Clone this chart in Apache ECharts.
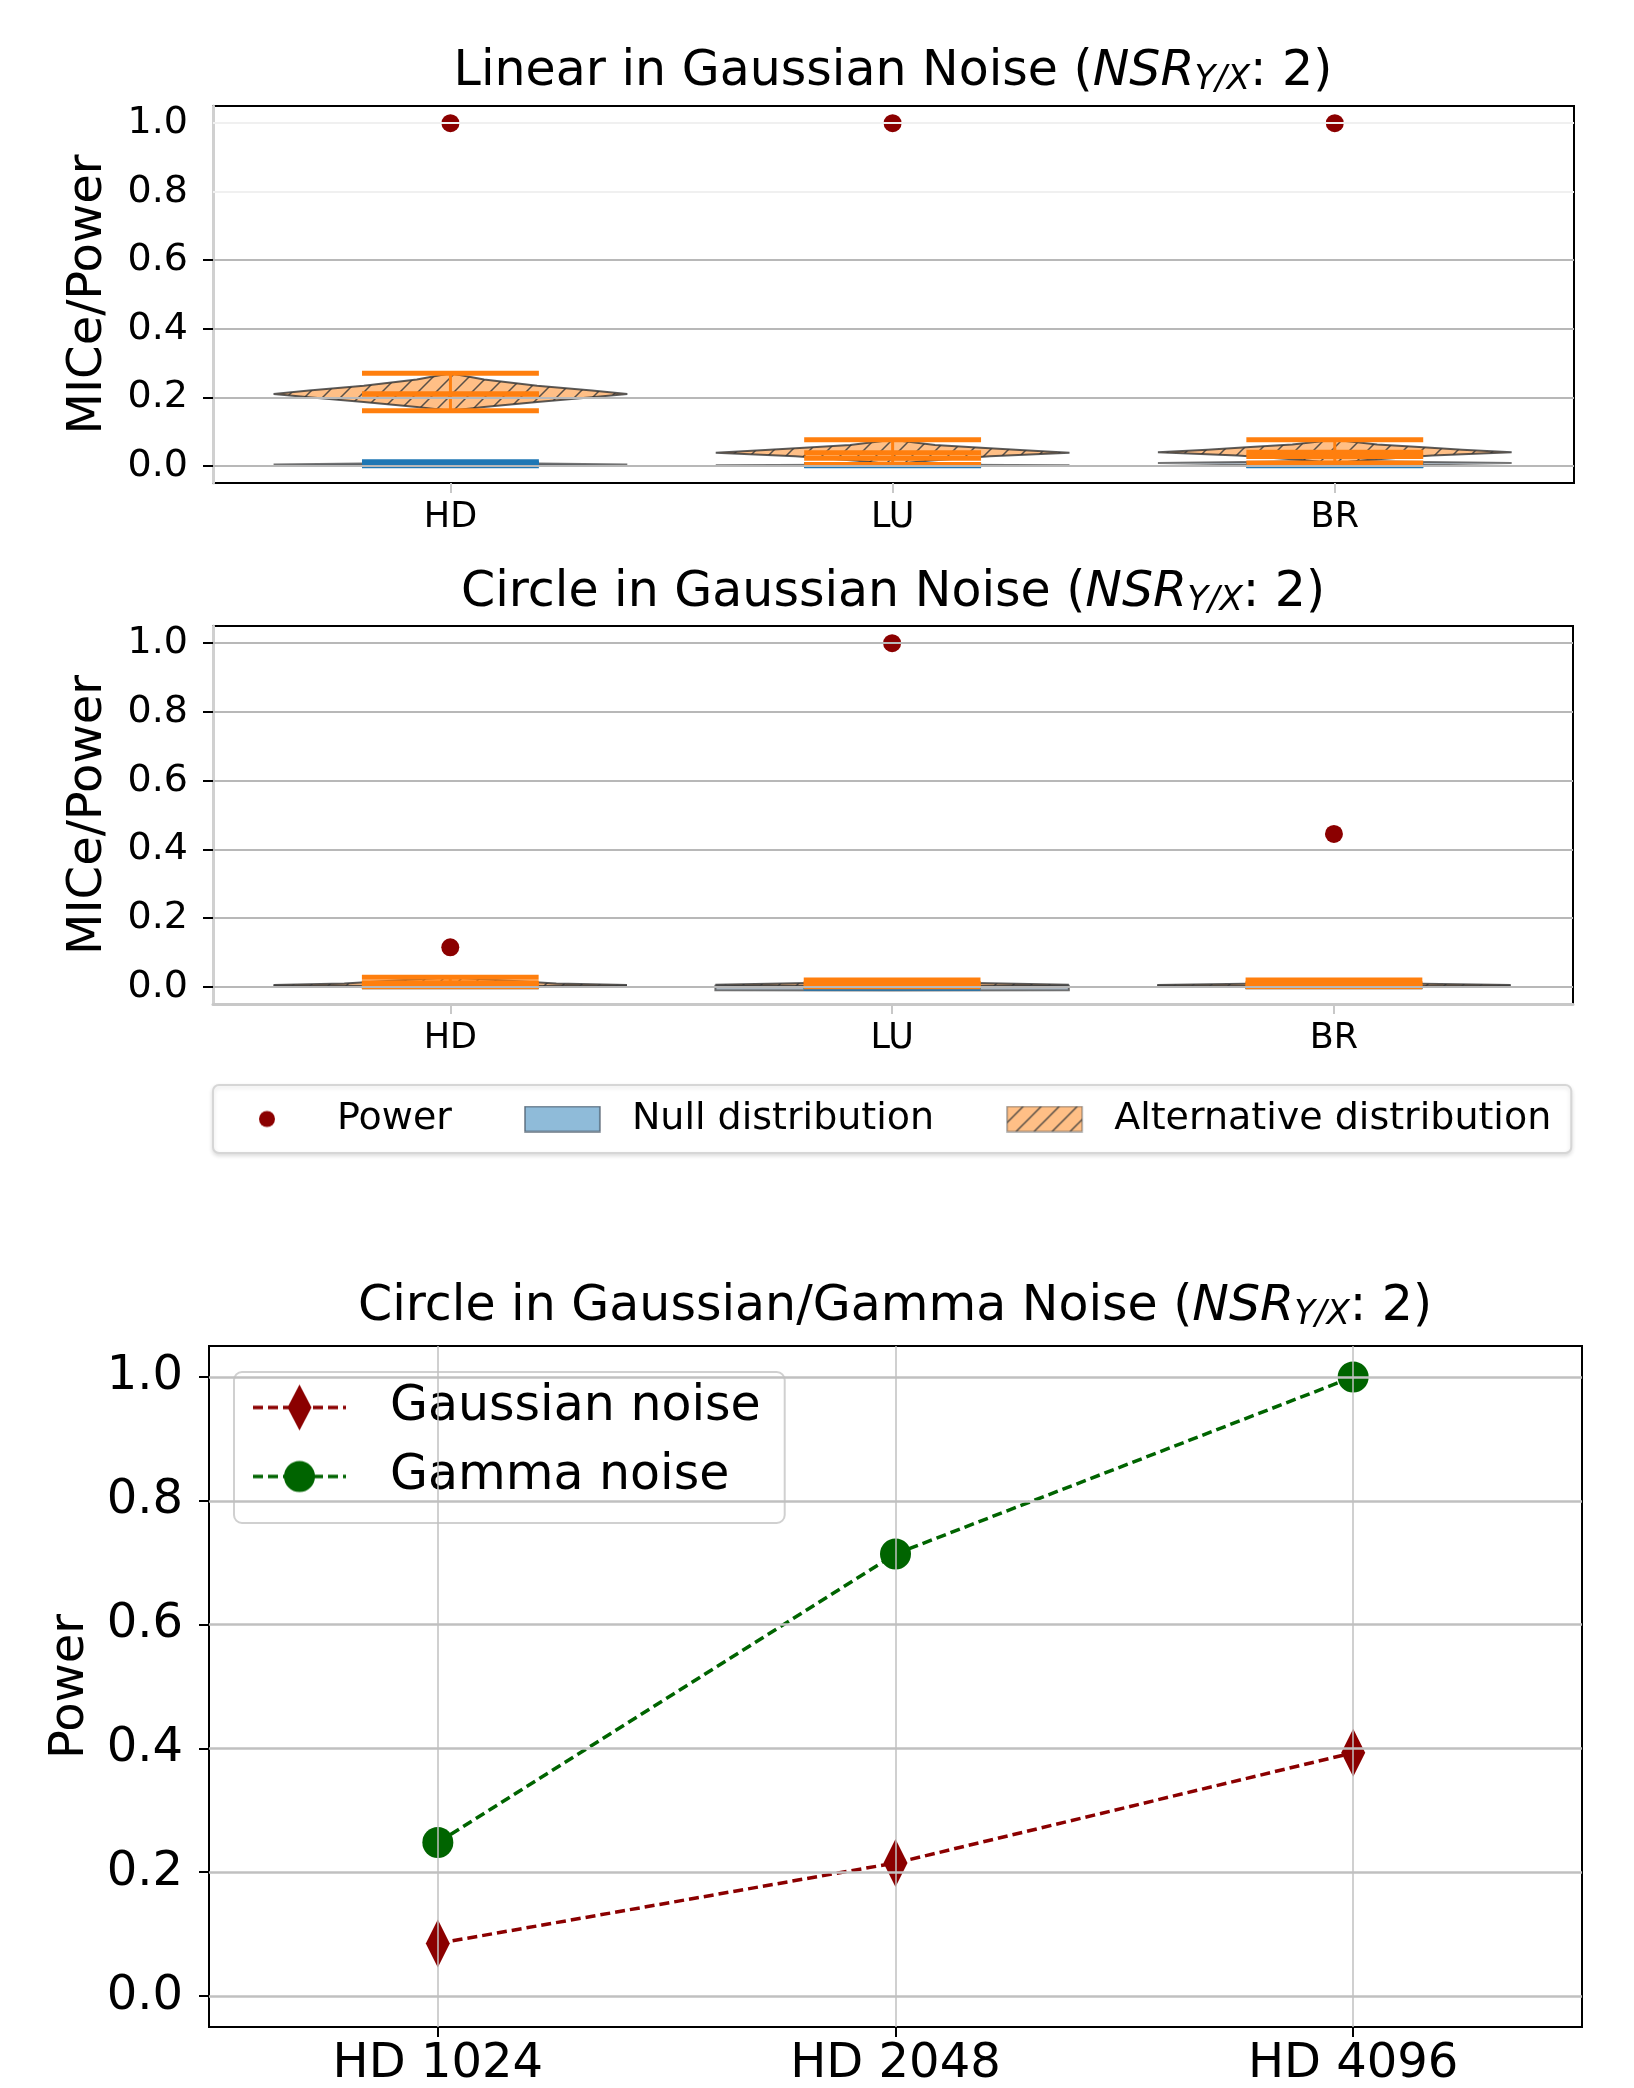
<!DOCTYPE html>
<html>
<head>
<meta charset="utf-8">
<script src="https://cdn.jsdelivr.net/npm/echarts@6/dist/echarts.min.js"></script>
<style>
  html, body { margin: 0; padding: 0; background: #fff; }
  #chart { width: 1634px; height: 2088px; }
</style>
</head>
<body>
<div id="chart"></div>
<script>
// ==============================
// data
// ==============================

const violinCats = ['HD', 'LU', 'BR'];
const violinTicks = [0, 0.2, 0.4, 0.6, 0.8, 1.0];

const linearPower = [1.0, 1.0, 1.0];
const circlePower = [0.115, 1.0, 0.445];

// [min, max, mean, median] of each violin
const linearNullStats = [[0.000, 0.012, 0.006, 0.005], [0.000, 0.004, 0.002, 0.002], [0.000, 0.005, 0.002, 0.002]];
const linearAltStats = [[0.161, 0.270, 0.210, 0.210], [0.004, 0.076, 0.038, 0.022], [0.008, 0.076, 0.040, 0.027]];
const circleNullStats = [[0.000, 0.006, 0.003, 0.003], [-0.004, 0.004, 0.000, 0.000], [0.000, 0.005, 0.002, 0.002]];
const circleAltStats = [[0.000, 0.028, 0.012, 0.010], [0.000, 0.020, 0.010, 0.008], [0.000, 0.020, 0.009, 0.008]];

// violin outlines: [value, relative density]
const linearNullShape = [
  [[0.000, 0], [0.004, 1], [0.007, 0.5], [0.012, 0]],
  [[0.000, 0], [0.002, 1], [0.004, 0]],
  [[0.000, 0], [0.008, 1], [0.012, 0.4], [0.016, 0]]
];
const linearAltShape = [
  [[0.161, 0], [0.172, 0.19], [0.186, 0.49], [0.200, 0.80], [0.210, 1.0], [0.220, 0.80], [0.234, 0.49], [0.252, 0.19], [0.270, 0]],
  [[0.004, 0], [0.015, 0.2], [0.028, 0.55], [0.038, 1.0], [0.046, 0.72], [0.053, 0.5], [0.061, 0.24], [0.076, 0]],
  [[0.008, 0], [0.018, 0.2], [0.030, 0.55], [0.040, 1.0], [0.047, 0.72], [0.054, 0.5], [0.062, 0.24], [0.076, 0]]
];
const circleNullShape = [
  [[0.000, 0], [0.003, 1], [0.006, 0]],
  [[-0.011, 0], [-0.010, 1], [0.003, 1], [0.004, 0]],
  [[0.000, 0], [0.003, 1], [0.006, 0]]
];
const circleAltShape = [
  [[0.000, 0], [0.005, 1], [0.010, 0.6], [0.028, 0]],
  [[0.000, 0], [0.006, 1], [0.012, 0.4], [0.020, 0]],
  [[0.000, 0], [0.005, 1], [0.010, 0.4], [0.020, 0]]
];

const hdCats = ['HD 1024', 'HD 2048', 'HD 4096'];
const gaussPower = [0.085, 0.215, 0.393];
const gammaPower = [0.248, 0.714, 1.0];

// ==============================
// styles
// ==============================

const FONT = 'DejaVu Sans';
const DARKRED = '#8b0000';
const DARKGREEN = '#006400';
const BLUE = '#1f77b4';
const ORANGE = '#ff7f0e';
const bodyHalf = 0.4;  // half width of violin body (category units)
const barHalf = 0.2;   // half width of min/max/mean bars
const thinDiamond = 'path://M0,0L1,2L0,4L-1,2Z';

function hatchCanvas(size) {
  const c = document.createElement('canvas');
  c.width = size; c.height = size;
  const g = c.getContext('2d');
  g.fillStyle = '#ffbf86';
  g.fillRect(0, 0, size, size);
  g.strokeStyle = 'rgba(60,60,60,0.85)';
  g.lineWidth = 1.5;
  g.beginPath();
  g.moveTo(-1, size + 1); g.lineTo(size + 1, -1);
  g.moveTo(-1, 1); g.lineTo(1, -1);
  g.moveTo(size - 1, size + 1); g.lineTo(size + 1, size - 1);
  g.stroke();
  return c;
}
const hatch = hatchCanvas(18);

function icon(w, h, draw) {
  const c = document.createElement('canvas');
  c.width = w; c.height = h;
  draw(c.getContext('2d'));
  return 'image://' + c.toDataURL();
}

const powerIcon = icon(103, 27, g => {
  g.fillStyle = DARKRED;
  g.beginPath(); g.arc(38, 13.5, 8, 0, Math.PI * 2); g.fill();
});
const nullIcon = icon(103, 27, g => {
  g.fillStyle = '#8fbbd9';
  g.fillRect(1, 1, 75, 25);
  g.strokeStyle = 'rgba(70,85,100,0.8)';
  g.lineWidth = 1.5;
  g.strokeRect(1, 1, 75, 25);
});
const altIcon = icon(103, 27, g => {
  g.fillStyle = g.createPattern(hatch, 'repeat');
  g.fillRect(1, 1, 75, 25);
  g.strokeStyle = 'rgba(70,70,70,0.5)';
  g.lineWidth = 1.5;
  g.strokeRect(1, 1, 75, 25);
});
function lineIcon(color, mark) {
  return icon(132, 48, g => {
    g.strokeStyle = color;
    g.lineWidth = 3.5;
    g.setLineDash([10, 5]);
    g.beginPath(); g.moveTo(0, 24); g.lineTo(93, 24); g.stroke();
    g.fillStyle = color;
    g.beginPath();
    if (mark === 'diamond') {
      g.moveTo(46.5, 1); g.lineTo(58.5, 24); g.lineTo(46.5, 47); g.lineTo(34.5, 24); g.closePath();
    } else {
      g.arc(46.5, 24, 15.5, 0, Math.PI * 2);
    }
    g.fill();
  });
}

function titleRich(size) {
  const base = { fontSize: size, fontFamily: FONT, fontWeight: 'normal', color: '#000', lineHeight: size, verticalAlign: 'top' };
  return {
    n: base,
    it: Object.assign({}, base, { fontStyle: 'italic' }),
    sub: {
      fontSize: Math.round(size * 0.7), fontFamily: FONT, fontWeight: 'normal', fontStyle: 'italic', color: '#000',
      lineHeight: Math.round(size * 0.7), padding: [Math.round(size * 0.5), 0, 0, 0], verticalAlign: 'bottom'
    }
  };
}

function titleStyle(size) {
  return { fontSize: size, fontFamily: FONT, fontWeight: 'normal', color: '#000', rich: titleRich(size) };
}

// ==============================
// violin drawing
// ==============================

function violinItem(stats, shapes, bodyStyle, barColor) {
  return function (params, api) {
    const i = params.dataIndex;
    const x = api.value(0);
    const s = stats[i];
    const prof = shapes[i];
    const pts = prof.map(r => api.coord([x + r[1] * bodyHalf, r[0]]))
      .concat(prof.slice().reverse().map(r => api.coord([x - r[1] * bodyHalf, r[0]])));
    const kids = [{ type: 'polygon', shape: { points: pts }, style: bodyStyle, z2: 1 }];
    const lo = api.coord([x, s[0]]);
    const hi = api.coord([x, s[1]]);
    kids.push({
      type: 'line', z2: 2,
      shape: { x1: lo[0], y1: lo[1], x2: hi[0], y2: hi[1] },
      style: { stroke: barColor, lineWidth: 3 }
    });
    s.forEach(v => {
      const a = api.coord([x - barHalf, v]);
      const b = api.coord([x + barHalf, v]);
      kids.push({
        type: 'line', z2: 2,
        shape: { x1: a[0], y1: a[1], x2: b[0], y2: b[1] },
        style: { stroke: barColor, lineWidth: 5 }
      });
    });
    return { type: 'group', children: kids };
  };
}

const nullBody = { fill: 'rgba(120,138,155,0.6)', stroke: 'rgba(60,60,60,0.7)', lineWidth: 2 };
const altBody = { fill: { image: hatch, repeat: 'repeat' }, stroke: 'rgba(50,50,50,0.8)', lineWidth: 2 };

function violinSeries(idx, power, nullStats, nullShape, altStats, altShape, faintAbove) {
  const cats = violinCats.map((c, i) => [i, 0]);
  return [
    {
      name: 'grid' + idx, type: 'line', xAxisIndex: idx, yAxisIndex: idx, data: [], z: 1, silent: true,
      markLine: {
        silent: true, symbol: ['none', 'none'], label: { show: false }, animation: false,
        data: violinTicks.map(v => ({
          yAxis: v,
          lineStyle: { color: v > faintAbove ? '#f0f0f0' : '#b8b8b8', width: 2, type: 'solid' }
        }))
      }
    },
    {
      name: 'Null distribution', type: 'custom', xAxisIndex: idx, yAxisIndex: idx, z: 2,
      data: cats, renderItem: violinItem(nullStats, nullShape, nullBody, BLUE)
    },
    {
      name: 'Alternative distribution', type: 'custom', xAxisIndex: idx, yAxisIndex: idx, z: 3,
      data: cats, renderItem: violinItem(altStats, altShape, altBody, ORANGE)
    },
    {
      name: 'Power', type: 'scatter', xAxisIndex: idx, yAxisIndex: idx, z: 4,
      data: power.map((v, i) => [i, v]),
      symbol: 'circle', symbolSize: 18, itemStyle: { color: DARKRED, opacity: 1 }
    }
  ];
}

function violinXAxis(idx, lineColor) {
  return {
    gridIndex: idx, type: 'value', min: -0.537, max: 2.541,
    splitLine: { show: false },
    axisLine: { show: !!lineColor, onZero: false, lineStyle: { color: lineColor || '#000', width: 3 } },
    axisTick: { show: true, customValues: [0, 1, 2], length: 10, lineStyle: { color: '#c8c8c8', width: 2 } },
    axisLabel: {
      customValues: [0, 1, 2], formatter: v => violinCats[Math.round(v)],
      fontSize: 35, fontFamily: FONT, color: '#000', margin: 17
    }
  };
}

function violinYAxis(idx, tickVals) {
  return {
    gridIndex: idx, type: 'value', min: -0.05, max: 1.05,
    name: 'MICe/Power', nameLocation: 'middle', nameGap: 100, nameMoveOverlap: false,
    nameTextStyle: { fontSize: 48, fontFamily: FONT, color: '#000' },
    splitLine: { show: false },
    axisLine: { show: true, onZero: false, lineStyle: { color: '#d0d0d0', width: 3 } },
    axisTick: { show: true, customValues: tickVals, length: 10, lineStyle: { color: '#000', width: 2 } },
    axisLabel: {
      customValues: violinTicks, formatter: v => v.toFixed(1),
      fontSize: 38, fontFamily: FONT, color: '#000', margin: 25
    }
  };
}

// ==============================
// chart
// ==============================

const gridBase = { show: true, borderColor: '#000', borderWidth: 2, backgroundColor: 'transparent', containLabel: false, outerBoundsMode: 'none' };

const chart = echarts.init(document.getElementById('chart'), null, { renderer: 'canvas' });

chart.setOption({
  animation: false,
  backgroundColor: '#fff',
  title: [
    {
      text: '{n|Linear in Gaussian Noise (}{it|NSR}{sub|Y/X}{n|: 2)}',
      left: 893, top: 48, textAlign: 'center', padding: 0,
      textStyle: titleStyle(49)
    },
    {
      text: '{n|Circle in Gaussian Noise (}{it|NSR}{sub|Y/X}{n|: 2)}',
      left: 893, top: 569, textAlign: 'center', padding: 0,
      textStyle: titleStyle(49)
    },
    {
      text: '{n|Circle in Gaussian/Gamma Noise (}{it|NSR}{sub|Y/X}{n|: 2)}',
      left: 895, top: 1283, textAlign: 'center', padding: 0,
      textStyle: titleStyle(49)
    }
  ],
  grid: [
    Object.assign({ left: 213, top: 106, width: 1361, height: 377 }, gridBase),
    Object.assign({ left: 213, top: 626, width: 1360, height: 378 }, gridBase),
    Object.assign({ left: 209, top: 1346, width: 1373, height: 681 }, gridBase)
  ],
  legend: [
    {
      left: 213, top: 1085, orient: 'horizontal',
      itemWidth: 103, itemHeight: 27, itemGap: 72,
      padding: [15, 20, 15, 16],
      backgroundColor: '#fff', borderColor: '#d6d6d6', borderWidth: 2, borderRadius: 6,
      shadowBlur: 4, shadowOffsetY: 2, shadowColor: 'rgba(0,0,0,0.12)',
      textStyle: { fontSize: 38, fontFamily: FONT, color: '#000' },
      selectedMode: false,
      data: [
        { name: 'Power', icon: powerIcon },
        { name: 'Null distribution', icon: nullIcon },
        { name: 'Alternative distribution', icon: altIcon }
      ]
    },
    {
      left: 234, top: 1372, orient: 'vertical',
      itemWidth: 132, itemHeight: 48, itemGap: 20,
      padding: [11, 24, 22, 19],
      backgroundColor: 'rgba(255,255,255,0.8)', borderColor: '#d0d0d0', borderWidth: 2, borderRadius: 8,
      textStyle: { fontSize: 49, fontFamily: FONT, color: '#000' },
      selectedMode: false,
      data: [
        { name: 'Gaussian noise', icon: lineIcon(DARKRED, 'diamond') },
        { name: 'Gamma noise', icon: lineIcon(DARKGREEN, 'circle') }
      ]
    }
  ],
  xAxis: [
    violinXAxis(0),
    violinXAxis(1, '#c8c8c8'),
    {
      gridIndex: 2, type: 'category', data: hdCats, boundaryGap: true,
      splitLine: { show: false },
      axisLine: { show: false, onZero: false },
      axisTick: { show: true, alignWithLabel: true, length: 10, lineStyle: { color: '#000', width: 2 } },
      axisLabel: { fontSize: 48, fontFamily: FONT, color: '#000', margin: 14 }
    }
  ],
  yAxis: [
    violinYAxis(0, violinTicks.filter(v => v < 0.7)),
    violinYAxis(1, violinTicks),
    {
      gridIndex: 2, type: 'value', min: -0.05, max: 1.05,
      name: 'Power', nameLocation: 'middle', nameGap: 114, nameMoveOverlap: false,
      nameTextStyle: { fontSize: 48, fontFamily: FONT, color: '#000' },
      splitLine: { show: false },
      axisLine: { show: false, onZero: false },
      axisTick: { show: true, customValues: violinTicks, length: 10, lineStyle: { color: '#000', width: 2 } },
      axisLabel: {
        customValues: violinTicks, formatter: v => v.toFixed(1),
        fontSize: 48, fontFamily: FONT, color: '#000', margin: 26
      }
    }
  ],
  series: [
    ...violinSeries(0, linearPower, linearNullStats, linearNullShape, linearAltStats, linearAltShape, 0.7),
    ...violinSeries(1, circlePower, circleNullStats, circleNullShape, circleAltStats, circleAltShape, 2),
    {
      name: 'grid2', type: 'line', xAxisIndex: 2, yAxisIndex: 2, data: [], z: 1, silent: true,
      markLine: {
        silent: true, symbol: ['none', 'none'], label: { show: false }, animation: false,
        data: violinTicks.map(v => ({ yAxis: v, lineStyle: { color: '#c0c0c0', width: 2.5, type: 'solid' } }))
          .concat(hdCats.map(c => ({ xAxis: c, lineStyle: { color: '#c0c0c0', width: 1.5, type: 'solid' } })))
      }
    },
    {
      name: 'Gaussian noise', type: 'line', xAxisIndex: 2, yAxisIndex: 2, z: 3,
      data: gaussPower,
      symbol: thinDiamond, symbolSize: [24, 48],
      lineStyle: { color: DARKRED, width: 3.5, type: [10, 5] },
      itemStyle: { color: DARKRED, opacity: 1 }
    },
    {
      name: 'Gamma noise', type: 'line', xAxisIndex: 2, yAxisIndex: 2, z: 3,
      data: gammaPower,
      symbol: 'circle', symbolSize: 31,
      lineStyle: { color: DARKGREEN, width: 3.5, type: [10, 5] },
      itemStyle: { color: DARKGREEN, opacity: 1 }
    }
  ]
});

window.addEventListener('resize', () => {
  chart && chart.resize();
});
</script>
</body>
</html>
